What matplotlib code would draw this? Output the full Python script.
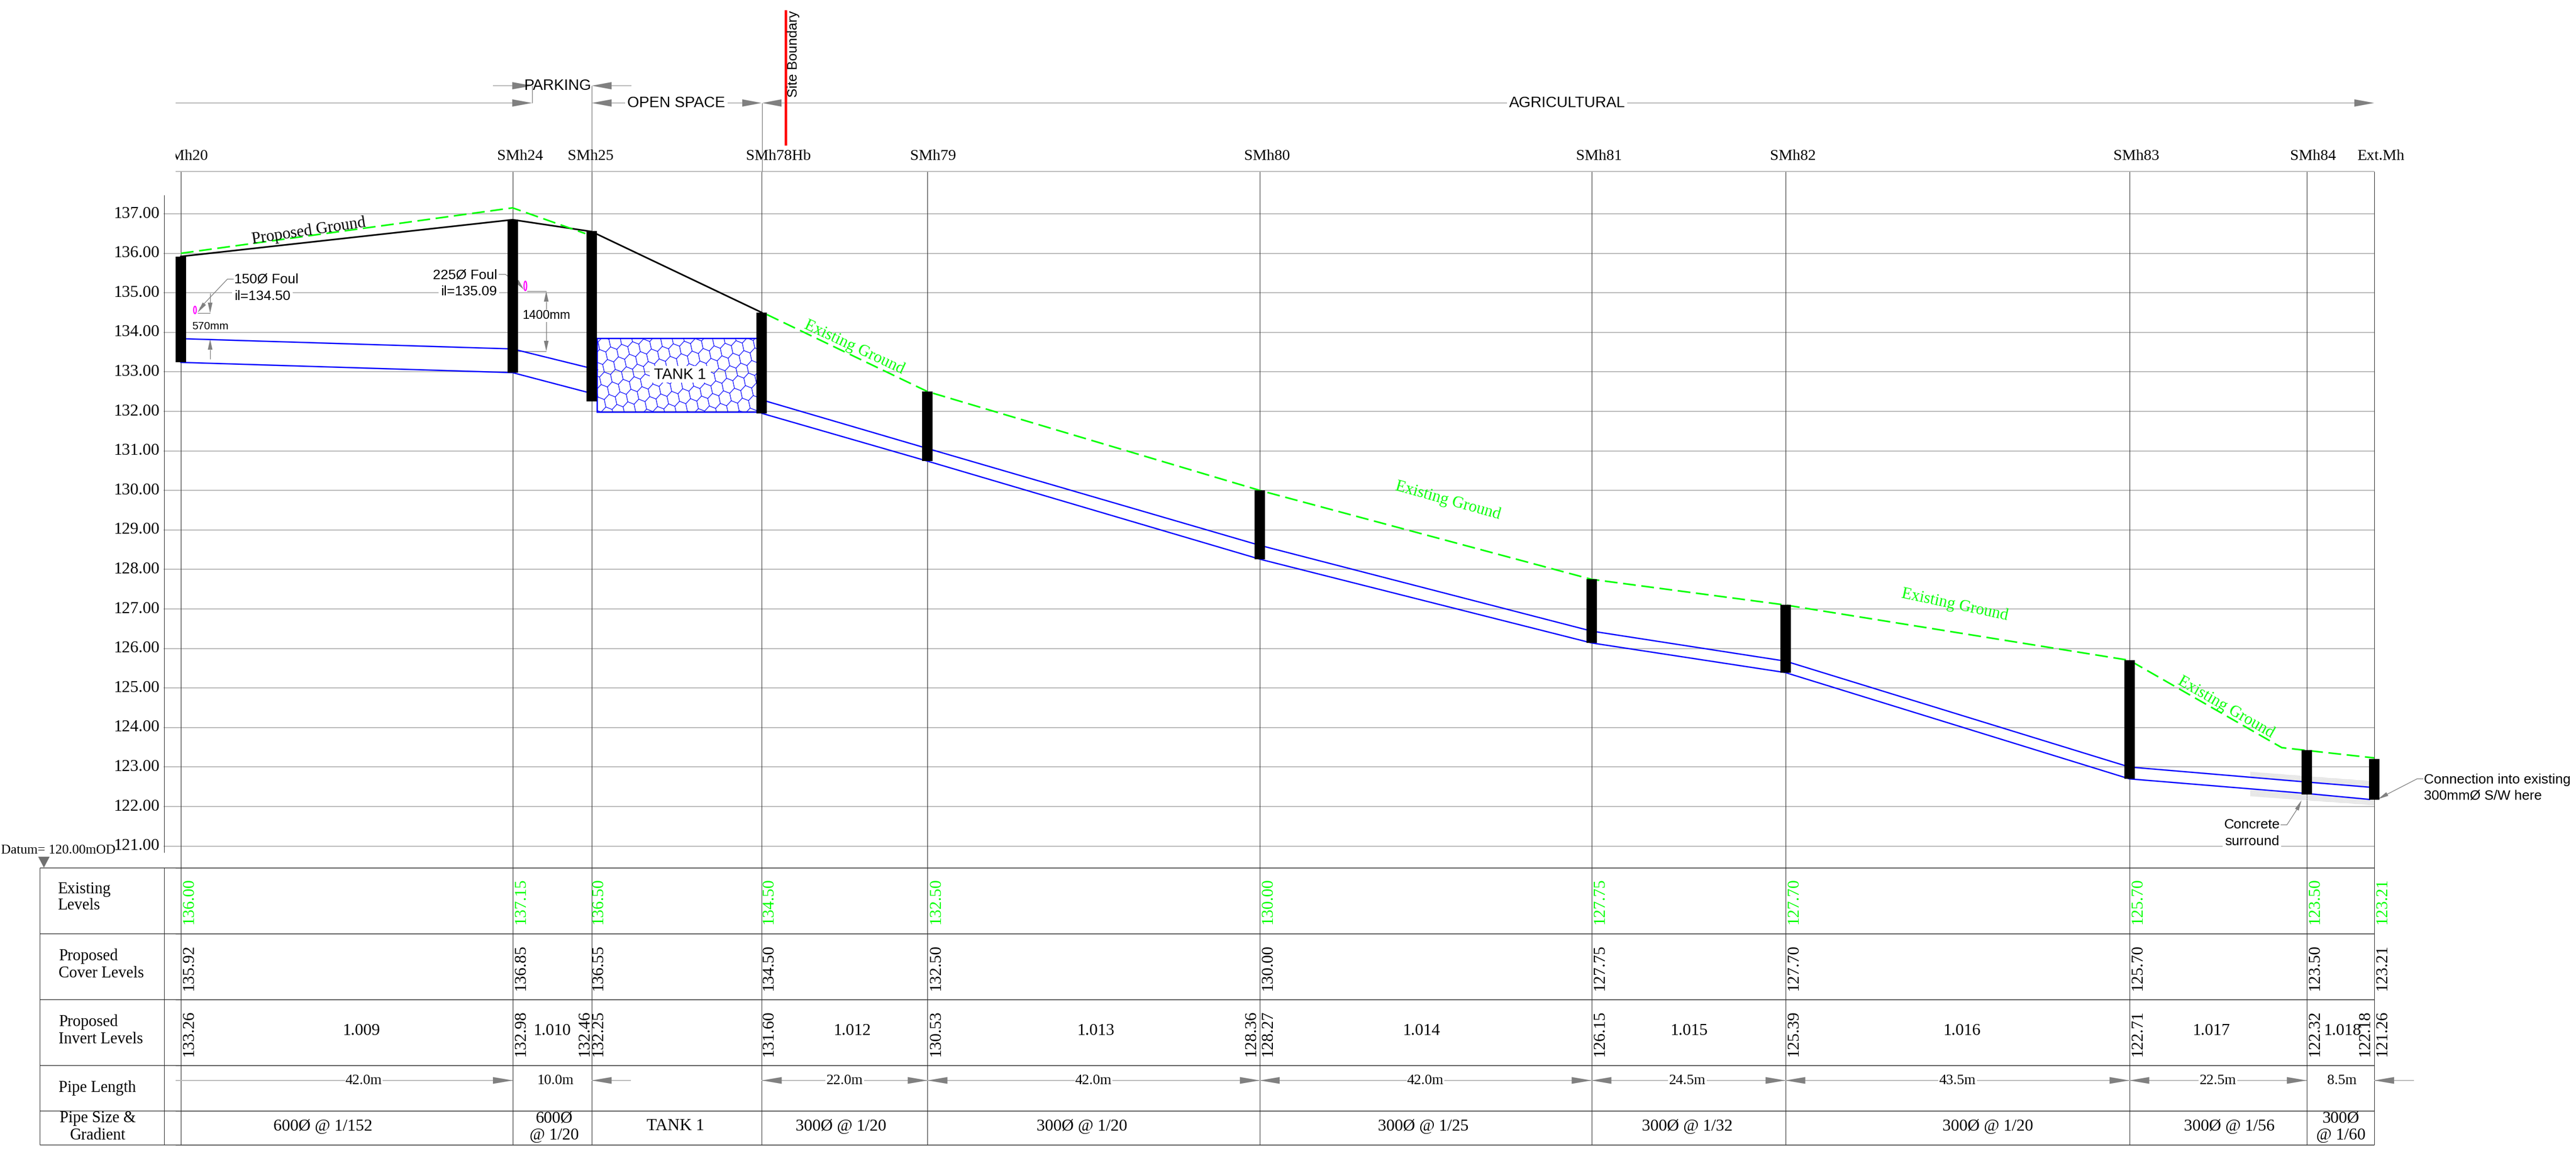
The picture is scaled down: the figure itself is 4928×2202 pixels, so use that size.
import matplotlib
matplotlib.use("Agg")
import matplotlib.pyplot as plt
from matplotlib.collections import PolyCollection
from matplotlib.patches import Ellipse, Polygon, Rectangle
from matplotlib.transforms import Affine2D, Bbox, TransformedBbox, blended_transform_factory

#DATA
MANHOLES = ["SMh20", "SMh24", "SMh25", "SMh78Hb", "SMh79", "SMh80", "SMh81", "SMh82", "SMh83", "SMh84", "Ext.Mh"]
CHAINAGE = [0, 42, 52, 73.56, 94.54, 136.6, 178.6, 203.15, 246.7, 269.15, 277.7]
BAR_TOP = [135.92, 136.85, 136.56, 134.5, 132.5, 130.0, 127.75, 127.1, 125.7, 123.43, 123.21]
BAR_BOTTOM = [133.24, 132.98, 132.25, 131.95, 130.74, 128.26, 126.14, 125.39, 122.7, 122.31, 122.17]

PROPOSED_X = [0, 42, 52, 73.56]
PROPOSED_Y = [135.92, 136.85, 136.55, 134.5]

EXISTING_A_X = [0, 42, 51.2]
EXISTING_A_Y = [136.0, 137.15, 136.5]
EXISTING_B_X = [74.2, 94.54, 136.6, 178.6, 203.15, 246.7, 266.0, 277.7]
EXISTING_B_Y = [134.45, 132.5, 130.0, 127.75, 127.1, 125.7, 123.49, 123.23]

PIPE_A_X = [0, 42, 52.75]
PIPE_A_TOP = [133.84, 133.58, 133.05]
PIPE_A_X2 = [0, 42, 52.1]
PIPE_A_BOTTOM = [133.24, 132.98, 132.45]
PIPE_B_X = [73.56, 94.54, 136.6, 178.6, 203.15, 246.7, 269.15, 277.1]
PIPE_B_TOP = [132.29, 131.06, 128.61, 126.44, 125.68, 123.0, 122.62, 122.49]
PIPE_B_BOTTOM = [131.95, 130.74, 128.26, 126.14, 125.39, 122.7, 122.33, 122.18]

TANK_X = [52.66, 73.56]
TANK_Y = [131.99, 133.85]

SURROUND_X = [262.0, 277.7]
SURROUND_1_LOW = [122.72, 122.50]
SURROUND_1_HIGH = [122.88, 122.64]
SURROUND_2_LOW = [122.26, 122.03]
SURROUND_2_HIGH = [122.42, 122.18]

LEVEL_TICKS = list(range(121, 138))

EXISTING_LABELS = ["136.00", "137.15", "136.50", "134.50", "132.50", "130.00", "127.75", "127.70", "125.70", "123.50", "123.21"]
COVER_LABELS = ["135.92", "136.85", "136.55", "134.50", "132.50", "130.00", "127.75", "127.70", "125.70", "123.50", "123.21"]
INVERT_LABELS = ["133.26", "132.98", "132.25", "131.60", "130.53", "128.27", "126.15", "125.39", "122.71", "122.32", "121.26"]
INVERT_IN_LABELS = ["132.46", "128.36", "122.18"]
INVERT_IN_PX = [1119, 2394, 4525]

PIPE_REFS = ["1.009", "1.010", "1.012", "1.013", "1.014", "1.015", "1.016", "1.017", "1.018"]
PIPE_REF_PX = [691, 1056, 1630, 2096, 2719, 3231, 3753, 4230, 4481]
LENGTHS = ["42.0m", "10.0m", "22.0m", "42.0m", "42.0m", "24.5m", "43.5m", "22.5m", "8.5m"]
LENGTH_PX = [696, 1063, 1616, 2092, 2727, 3228, 3745, 4243, 4480]
SIZES = ["600Ø @ 1/152", "TANK 1", "300Ø @ 1/20", "300Ø @ 1/20", "300Ø @ 1/25", "300Ø @ 1/32", "300Ø @ 1/20", "300Ø @ 1/56"]
SIZE_PX = [618, 1292, 1609, 2070, 2723, 3228, 3803, 4265]
SIZES_TWO_LINE = [("600Ø", "@ 1/20"), ("300Ø", "@ 1/60")]
SIZE_TWO_LINE_PX = [1060, 4478]

#LAYOUT (pixels of the 4928x2202 picture)
W, H = 4928, 2202
X0, PX_PER_M = 346, 15.11
Y137, PX_PER_LEVEL = 409, 75.6
ROWS = [1660, 1786, 1912, 2038, 2125, 2190]
ROW_BOTTOMS = [1768, 1895, 2021]

GREY = "#808080"
GRID = "#b8b8b8"
DARK = "#303030"
SERIF = "Liberation Serif"
SANS = "Liberation Sans"

plt.rcParams["font.family"] = SERIF
plt.rcParams["hatch.linewidth"] = 0.8


def mx(ch):
    return X0 + ch * PX_PER_M


fig = plt.figure(figsize=(W / 100, H / 100), dpi=100)
ax = fig.add_axes([0, 0, 1, 1])
ax.set_xlim(-X0 / PX_PER_M, (W - X0) / PX_PER_M)
ax.set_ylim(137 - (H - Y137) / PX_PER_LEVEL, 137 + Y137 / PX_PER_LEVEL)
ax.autoscale(False)
ax.axis("off")

px = Affine2D().scale(1 / W, -1 / H).translate(0, 1) + fig.transFigure
px_level = blended_transform_factory(px, ax.transData)
white = dict(facecolor="white", edgecolor="none", pad=3)


def line(xs, ys, color=GREY, lw=1.0, z=2):
    ax.plot(xs, ys, color=color, lw=lw, transform=px, zorder=z, solid_capstyle="butt")


def arrow(tip, base, half=6.5, color=GREY, z=3):
    dx, dy = base[0] - tip[0], base[1] - tip[1]
    n = (dx * dx + dy * dy) ** 0.5
    ox, oy = -dy / n * half, dx / n * half
    ax.add_patch(Polygon([tip, (base[0] + ox, base[1] + oy), (base[0] - ox, base[1] - oy)],
                         closed=True, facecolor=color, edgecolor="none", transform=px, zorder=z))


def text(x, y, s, size=22, ha="center", va="center", z=6, **kw):
    return ax.text(x, y, s, fontsize=size, ha=ha, va=va, transform=px, zorder=z, **kw)


# grid and level labels
for lev in LEVEL_TICKS:
    ax.plot([314, 4542], [lev, lev], color=GRID, lw=1.4, transform=px_level, zorder=1)
    ax.text(305, lev, "%.2f" % lev, fontsize=23, ha="right", va="center", transform=px_level, zorder=6)
line([314, 314], [373, 1631], color=DARK, lw=0.8)

# manhole verticals
for ch in CHAINAGE:
    line([mx(ch), mx(ch)], [328, ROWS[-1]], color=DARK, lw=0.8, z=2)

# manhole names
line([336, 4542], [328, 328], color=GRID, lw=1.4)
NAME_SHIFT = [7.5, 14, -2, 32, 11, 14, 14, 14, 13, 12, 12]
for name, ch, shift in zip(MANHOLES, CHAINAGE, NAME_SHIFT):
    t = text(mx(ch) + shift, 299, name, size=21.5)
    t.set_clip_box(TransformedBbox(Bbox([[336, 0], [W, H]]), px))
    t.set_clip_on(True)

# zone band
line([943, 980], [164, 164], color=GRID, lw=1.4)
line([1018, 1018], [164, 197], color=GREY, lw=1.0)
line([1132, 1132], [164, 328], color=GREY, lw=1.0)
line([1458, 1458], [197, 328], color=GREY, lw=1.0)
line([1170, 1208], [164, 164], color=GRID, lw=1.4)
line([336, 980], [197, 197], color=GRID, lw=1.4)
line([1170, 1420], [197, 197], color=GRID, lw=1.4)
line([1495, 4504], [197, 197], color=GRID, lw=1.4)
for tip, base in [((1018, 164), (980, 164)), ((1018, 197), (980, 197)), ((1132, 164), (1170, 164)),
                  ((1132, 197), (1170, 197)), ((1457, 197), (1420, 197)), ((1458, 197), (1495, 197)),
                  ((4542, 197), (4504, 197))]:
    arrow(tip, base, half=7)
text(1067, 164, "PARKING", size=21, family=SANS)
text(1294, 197, "OPEN SPACE", size=21, family=SANS, bbox=white)
text(2998, 197, "AGRICULTURAL", size=21, family=SANS, bbox=white)
line([1503, 1503], [19, 278], color="#ff0000", lw=3.4, z=4)
text(1518, 186, "Site Boundary", size=19, family=SANS, rotation=90, va="bottom")

# tank
hexes = []
a1, a2 = (21, -5), (15, 19)
unit = [(1 / 3, 1 / 3), (2 / 3, -1 / 3), (1 / 3, -2 / 3), (-1 / 3, -1 / 3), (-2 / 3, 1 / 3), (-1 / 3, 2 / 3)]
for i in range(-12, 30):
    for j in range(-12, 20):
        cx = 1141 + i * a1[0] + j * a2[0]
        cy = 640 + i * a1[1] + j * a2[1]
        hexes.append([(cx + u * a1[0] + v * a2[0], cy + u * a1[1] + v * a2[1]) for u, v in unit])
hatch = PolyCollection(hexes, facecolors="none", edgecolors="#2020ff", linewidths=0.8, transform=px, zorder=3)
ax.add_collection(hatch, autolim=False)
tank_box = Rectangle((TANK_X[0], TANK_Y[0]), TANK_X[1] - TANK_X[0], TANK_Y[1] - TANK_Y[0],
                     facecolor="none", edgecolor="#0000ff", lw=1.8, zorder=4)
ax.add_patch(tank_box)
hatch.set_clip_path(tank_box)
ax.add_patch(Rectangle((1243, 700), 117, 32, facecolor="white", edgecolor="none", transform=px, zorder=3.5))
text(1301, 717, "TANK 1", size=21, family=SANS)

# concrete surround
for lo, hi in [(SURROUND_1_LOW, SURROUND_1_HIGH), (SURROUND_2_LOW, SURROUND_2_HIGH)]:
    ax.fill_between(SURROUND_X, lo, hi, facecolor="none", edgecolor="#c0c0c0", hatch="........", lw=0, zorder=2)

# ground and pipes
ax.plot(PROPOSED_X, PROPOSED_Y, color="black", lw=2.2, zorder=4)
dash = (0, (8, 3.5))
ax.plot(EXISTING_A_X, EXISTING_A_Y, color="#00ff00", lw=2.2, ls=dash, zorder=5)
ax.plot(EXISTING_B_X, EXISTING_B_Y, color="#00ff00", lw=2.2, ls=dash, zorder=5)
ax.plot(PIPE_A_X, PIPE_A_TOP, color="#0000ff", lw=1.8, zorder=4)
ax.plot(PIPE_A_X2, PIPE_A_BOTTOM, color="#0000ff", lw=1.8, zorder=4)
ax.plot(PIPE_B_X, PIPE_B_TOP, color="#0000ff", lw=1.8, zorder=4)
ax.plot(PIPE_B_X, PIPE_B_BOTTOM, color="#0000ff", lw=1.8, zorder=4)
ax.bar(CHAINAGE, [t - b for t, b in zip(BAR_TOP, BAR_BOTTOM)], bottom=BAR_BOTTOM,
       width=20 / PX_PER_M, color="black", zorder=5)

text(591, 442, "Proposed Ground", size=22.5, rotation=8.5, rotation_mode="anchor")
for x, y, ang in [(1634, 665, -25), (2770, 958, -15.6), (3740, 1157, -12), (4258, 1353, -30)]:
    text(x, y, "Existing Ground", size=22.5, color="#00ff00", rotation=ang, rotation_mode="anchor")

# foul connections
ax.add_patch(Ellipse((373, 593), 5, 14, facecolor="none", edgecolor="#ff00ff", lw=1.6, transform=px, zorder=6))
ax.add_patch(Ellipse((1005, 547), 5, 18, facecolor="none", edgecolor="#ff00ff", lw=1.6, transform=px, zorder=6))
text(448, 535, "150Ø Foul", size=19, ha="left", family=SANS)
text(448, 567, "il=134.50", size=19, ha="left", family=SANS, bbox=white, z=5)
text(951, 526, "225Ø Foul", size=19, ha="right", family=SANS)
text(951, 558, "il=135.09", size=19, ha="right", family=SANS, bbox=white, z=5)
line([447, 435, 382], [534, 534, 590])
arrow((378, 598), (391, 581), half=4)
line([954, 967, 998], [525, 525, 548])
arrow((1002, 554), (989, 538), half=4)

# dimensions
line([378, 402], [599, 599])
line([402, 402], [561, 580])
arrow((402, 599), (402, 579), half=4.5)
line([402, 402], [669, 687])
arrow((402, 649), (402, 669), half=4.5)
text(402, 624, "570mm", size=15, family=SANS)
line([1008, 1045], [557, 557])
line([987, 1045], [672, 672])
line([1045, 1045], [577, 652])
arrow((1045, 557), (1045, 577), half=4.5)
arrow((1045, 672), (1045, 652), half=4.5)
text(1045, 604, "1400mm", size=17, family=SANS, bbox=dict(facecolor="white", edgecolor="none", pad=1))

# right hand notes
text(4637, 1492, "Connection into existing", size=19, ha="left", family=SANS)
text(4637, 1523, "300mmØ S/W here", size=19, ha="left", family=SANS)
line([4636, 4624, 4556], [1490, 1490, 1525])
arrow((4549, 1529), (4567, 1519), half=4)
text(4308, 1578, "Concrete", size=19, family=SANS)
text(4308, 1610, "surround", size=19, family=SANS, bbox=white, z=5)
line([4363, 4375, 4399], [1578, 1578, 1541])
arrow((4403, 1531), (4394, 1549), half=4)

# datum
text(2, 1627, "Datum= 120.00mOD", size=18.5, ha="left")
arrow((84, 1660), (84, 1639), half=11, color="#707070")

# table
for y in ROWS:
    line([336, 4542], [y + 1, y + 1], color=GRID, lw=1.2, z=1)
    line([76, 4542], [y, y], color=DARK, lw=1.0, z=2)
for x in [76, 314]:
    line([x, x], [ROWS[0], ROWS[-1]], color=DARK, lw=0.8)

for x, y, s in [(110, 1702, "Existing"), (110, 1733, "Levels"), (112, 1829, "Proposed"), (112, 1862, "Cover Levels"),
                (112, 1955, "Proposed"), (112, 1989, "Invert Levels"), (112, 2082, "Pipe Length")]:
    text(x, y, s, size=22, ha="left")
text(187, 2140, "Pipe Size &", size=22)
text(187, 2172, "Gradient", size=22)

for ch, a, b, c in zip(CHAINAGE, EXISTING_LABELS, COVER_LABELS, INVERT_LABELS):
    off = 13 if ch == CHAINAGE[3] or ch == CHAINAGE[2] else 16
    text(mx(ch) + off, ROW_BOTTOMS[0], a, size=23, color="#00ff00", rotation=90, va="bottom")
    text(mx(ch) + off, ROW_BOTTOMS[1], b, size=23, rotation=90, va="bottom")
    text(mx(ch) + off, ROW_BOTTOMS[2], c, size=23, rotation=90, va="bottom")
for x, s in zip(INVERT_IN_PX, INVERT_IN_LABELS):
    text(x, ROW_BOTTOMS[2], s, size=23, rotation=90, va="bottom")
for x, s in zip(PIPE_REF_PX, PIPE_REFS):
    text(x, 1973, s, size=23)

# pipe length dimensions, tank gap has no length
y = 2067
line([336, 981], [y, y], color=GRID, lw=1.4)
arrow((981, y), (943, y))
line([1132, 1207], [y, y], color=GRID, lw=1.4)
arrow((1132, y), (1170, y))
for ch_a, ch_b in zip(CHAINAGE[3:-2], CHAINAGE[4:-1]):
    left, right = mx(ch_a), mx(ch_b)
    line([left, right], [y, y], color=GRID, lw=1.4)
    arrow((left, y), (left + 38, y))
    arrow((right, y), (right - 38, y))
line([4542, 4618], [y, y], color=GRID, lw=1.4)
arrow((mx(CHAINAGE[-1]), y), (mx(CHAINAGE[-1]) + 38, y))
for x, s in zip(LENGTH_PX, LENGTHS):
    text(x, y, s, size=20, bbox=dict(facecolor="white", edgecolor="none", pad=1))

for x, s in zip(SIZE_PX, SIZES):
    text(x, 2155, s, size=23)
for x, (s1, s2) in zip(SIZE_TWO_LINE_PX, SIZES_TWO_LINE):
    text(x, 2140, s1, size=23)
    text(x, 2172, s2, size=23)

fig.savefig("out.png", dpi=100, facecolor="white")
